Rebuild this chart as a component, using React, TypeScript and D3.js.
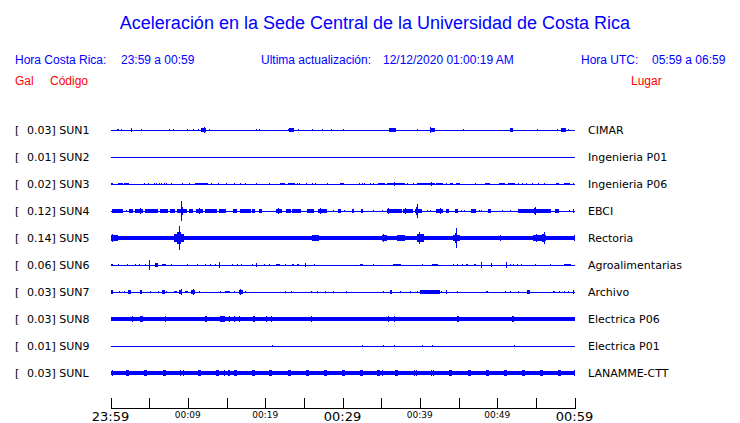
import React from "react";
import * as d3 from "d3";

const title = "Aceleración en la Sede Central de la Universidad de Costa Rica";
const codes = ["SUN1", "SUN2", "SUN3", "SUN4", "SUN5", "SUN6", "SUN7", "SUN8", "SUN9", "SUNL"];
const peaks = ["0.03", "0.01", "0.02", "0.12", "0.14", "0.06", "0.03", "0.03", "0.01", "0.03"];
const places = ["CIMAR", "Ingenieria P01", "Ingenieria P06", "EBCI", "Rectoria", "Agroalimentarias", "Archivo", "Electrica P06", "Electrica P01", "LANAMME-CTT"];
// background noise level (normalized amplitude)
const noise = [0, 0, 0, 0, 0.14, 0, 0, 0.14, 0, 0.15];
const tickMinutes = [0, 5, 10, 15, 20, 25, 30, 35, 40, 45, 50, 55, 60];
const tickLabels = ["23:59", "", "00:09", "", "00:19", "", "00:29", "", "00:39", "", "00:49", "", "00:59"];
const bigTicks = ["23:59", "00:29", "00:59"];

// bursts: [start minute, end minute, normalized amplitude]
type B = [number, number, number];
const sun1: B[] = [[0.85,1.1,0.12],[1.38,1.38,0.08],[2.67,2.67,0.15],[4.0,4.0,0.1],[7.53,7.53,0.1],[8.04,8.04,0.1],[9.89,9.89,0.1],[10.62,10.62,0.1],[11.25,11.4,0.1],[11.7,12.3,0.14],[12.04,12.04,0.22],[12.69,12.69,0.1],[18.8,18.8,0.1],[19.14,19.14,0.1],[22.92,22.92,0.1],[23.05,23.65,0.14],[24.22,24.22,0.08],[26.02,26.02,0.1],[27.4,27.4,0.1],[28.47,28.47,0.1],[30.11,30.11,0.1],[35.95,36.9,0.14],[39.66,39.66,0.1],[41.29,41.29,0.28],[41.3,41.95,0.14],[45.59,45.59,0.06],[51.6,52.05,0.14],[55.14,55.14,0.08],[57.72,57.72,0.08],[58.3,58.95,0.14],[59.14,59.14,0.1]];
const sun2: B[] = [];
const sun3: B[] = [[0,0.3,0.11],[0.99,1.59,0.11],[1.81,2.49,0.11],[4.3,4.3,0.1],[4.86,4.86,0.1],[5.59,5.59,0.1],[5.89,5.89,0.1],[6.24,6.24,0.1],[6.58,6.58,0.1],[6.88,6.88,0.1],[7.23,7.23,0.1],[7.87,7.87,0.1],[9.25,9.25,0.1],[10.11,10.11,0.1],[10.88,12.6,0.11],[13.03,13.03,0.1],[13.89,13.89,0.1],[14.92,14.92,0.1],[16.0,16.0,0.08],[16.69,16.69,0.1],[17.33,17.33,0.08],[18.84,18.84,0.1],[20.52,20.52,0.1],[21.94,22.58,0.11],[22.92,23.78,0.11],[24.09,24.09,0.1],[24.43,24.43,0.1],[25.25,25.25,0.1],[26.11,26.11,0.1],[26.45,26.45,0.1],[27.96,27.96,0.1],[29.68,30.24,0.11],[32.17,32.17,0.1],[32.47,32.47,0.1],[32.82,32.82,0.1],[33.55,33.55,0.1],[33.89,33.89,0.1],[34.54,35.48,0.11],[35.7,38.06,0.11],[36.69,36.69,0.17],[38.28,38.28,0.1],[39.14,39.14,0.1],[39.57,39.57,0.1],[39.78,41.94,0.11],[41.5,41.5,0.15],[42.15,43.01,0.11],[43.44,43.44,0.1],[43.96,44.3,0.11],[44.73,45.29,0.11],[47.1,47.1,0.1],[48.39,49.03,0.11],[50.24,50.97,0.11],[51.4,52.34,0.11],[52.69,52.69,0.1],[53.25,53.25,0.1],[53.76,53.76,0.1],[54.49,54.49,0.1],[55.27,55.27,0.1],[56.04,56.04,0.1],[57.63,58.06,0.11],[58.62,59.35,0.11],[59.78,59.78,0.1]];
const sun4: B[] = [[0.13,1.51,0.16],[1.94,1.94,0.12],[2.37,2.88,0.16],[3.14,4.17,0.16],[3.87,3.87,0.22],[4.52,6.15,0.16],[6.45,7.53,0.16],[7.74,8.39,0.16],[8.6,9.89,0.17],[9.1,9.3,0.3],[9.16,9.16,0.85],[10.19,10.75,0.16],[11.05,11.91,0.16],[11.4,11.4,0.22],[12.17,13.76,0.16],[13.98,14.92,0.16],[15.78,16.34,0.16],[16.77,18.15,0.16],[18.28,18.71,0.16],[19.23,19.66,0.16],[21.38,22.15,0.16],[21.72,21.72,0.24],[22.67,23.35,0.16],[23.53,24.73,0.16],[25.42,26.37,0.16],[26.88,28.09,0.16],[27.1,27.1,0.24],[28.82,28.82,0.12],[29.46,29.89,0.16],[30.24,30.24,0.12],[31.18,31.4,0.16],[32.39,32.69,0.16],[33.89,33.89,0.12],[35.14,35.14,0.12],[35.7,37.63,0.16],[35.91,35.91,0.22],[37.85,39.14,0.16],[38.06,38.06,0.22],[39.35,40.22,0.17],[39.55,39.8,0.3],[39.66,39.66,0.6],[40.99,40.99,0.12],[41.33,41.33,0.12],[42.06,43.01,0.16],[42.58,42.58,0.22],[43.44,43.87,0.16],[44.52,44.95,0.16],[45.29,45.29,0.12],[45.72,45.72,0.12],[46.67,47.31,0.16],[47.66,47.66,0.12],[47.87,47.87,0.12],[48.82,49.25,0.16],[50.67,50.67,0.12],[51.61,51.61,0.12],[52.69,56.99,0.16],[54.7,55.0,0.22],[54.84,54.84,0.37],[57.5,58.06,0.16],[59.35,59.35,0.12],[59.78,59.78,0.14]];
const sun5: B[] = [[0,0.86,0.22],[0.13,0.13,0.33],[6.02,6.02,0.2],[6.45,6.45,0.2],[8.17,9.46,0.3],[8.6,9.1,0.5],[8.9,8.9,1.0],[14.62,14.62,0.2],[15.91,15.91,0.2],[18.49,18.49,0.2],[21.08,21.08,0.18],[22.37,22.37,0.18],[23.44,23.44,0.18],[24.52,24.52,0.18],[26.02,26.88,0.22],[26.37,26.37,0.28],[32.9,32.9,0.2],[35.05,35.7,0.25],[35.27,35.27,0.33],[36.99,38.06,0.22],[37.2,37.2,0.28],[37.85,37.85,0.28],[39.57,40.43,0.3],[39.91,39.91,0.5],[40.86,40.86,0.2],[42.92,42.92,0.18],[44.3,45.16,0.25],[44.6,44.9,0.4],[44.73,44.73,0.83],[45.72,45.72,0.2],[48.39,48.39,0.18],[50.32,50.32,0.22],[53.33,53.33,0.2],[54.62,56.34,0.25],[55.05,55.05,0.3],[55.8,56.2,0.35],[56.04,56.04,0.47],[57.2,57.2,0.2],[57.85,57.85,0.2],[59.91,59.91,0.22]];
const sun6: B[] = [[0.05,0.25,0.11],[0.99,0.99,0.08],[2.15,2.15,0.08],[3.14,3.31,0.1],[3.66,3.66,0.08],[4.43,4.43,0.1],[4.95,4.95,0.44],[5.81,6.15,0.14],[5.95,5.95,0.2],[6.67,7.18,0.11],[7.87,7.87,0.08],[9.89,9.89,0.1],[11.18,11.18,0.08],[12.26,12.26,0.08],[12.9,12.9,0.06],[13.55,13.55,0.08],[13.98,13.98,0.22],[15.7,15.7,0.08],[16.34,16.34,0.08],[16.9,16.9,0.08],[18.28,18.28,0.1],[18.84,18.84,0.17],[19.91,19.91,0.08],[20.52,20.52,0.1],[21.38,21.94,0.1],[22.58,22.58,0.1],[23.44,23.7,0.1],[24.13,24.39,0.1],[25.16,25.16,0.17],[26.32,26.32,0.1],[32.26,32.69,0.1],[33.98,33.98,0.1],[36.56,37.63,0.1],[40.22,40.22,0.08],[41.51,42.28,0.1],[44.3,44.3,0.1],[44.86,44.86,0.1],[45.46,45.46,0.1],[46.02,46.24,0.1],[47.01,47.31,0.1],[47.96,47.96,0.22],[49.16,49.16,0.17],[51.1,51.1,0.28],[51.61,51.61,0.1],[52.04,52.04,0.1],[52.6,52.6,0.08],[53.12,53.12,0.08],[54.84,54.84,0.08],[56.77,56.77,0.08],[58.62,59.57,0.11]];
const sun7: B[] = [[0,0.22,0.14],[1.16,1.16,0.12],[1.72,1.72,0.08],[2.28,2.71,0.14],[2.5,2.5,0.17],[3.78,4.0,0.14],[5.16,5.16,0.08],[6.15,6.15,0.08],[6.67,7.01,0.14],[7.23,7.23,0.1],[8.17,8.6,0.12],[8.9,9.33,0.16],[9.1,9.1,0.22],[9.68,10.11,0.12],[10.45,10.97,0.16],[10.7,10.7,0.25],[11.4,11.4,0.08],[14.19,14.19,0.08],[14.75,15.35,0.12],[15.91,15.91,0.08],[16.56,17.08,0.14],[16.8,16.8,0.22],[17.42,17.42,0.08],[22.58,22.58,0.08],[23.35,23.35,0.1],[25.89,25.89,0.06],[26.67,26.67,0.08],[27.74,27.74,0.08],[28.82,28.82,0.08],[30.41,30.41,0.06],[35.27,35.27,0.08],[36.13,36.43,0.14],[37.42,37.42,0.1],[38.71,38.71,0.1],[39.66,39.66,0.08],[40.0,42.58,0.14],[42.8,42.8,0.1],[43.44,43.44,0.2],[44.82,44.82,0.1],[48.6,48.9,0.12],[51.05,51.05,0.08],[51.61,51.61,0.08],[52.69,52.69,0.08],[53.9,54.2,0.14],[54.06,54.06,0.2],[57.2,57.5,0.12],[57.94,57.94,0.1],[58.62,58.62,0.1],[59.14,59.14,0.1],[59.78,59.78,0.2]];
const sun8: B[] = [[2.8,2.8,0.22],[3.87,4.3,0.22],[7.01,7.01,0.22],[7.61,7.61,0.2],[8.9,8.9,0.2],[11.4,11.4,0.2],[12.2,12.4,0.24],[14.19,14.84,0.22],[15.35,15.35,0.22],[16.0,16.0,0.22],[16.65,16.65,0.22],[18.4,18.6,0.24],[19.35,19.35,0.2],[20.05,20.2,0.22],[20.8,20.95,0.22],[22.8,22.8,0.2],[23.44,23.44,0.2],[25.89,25.89,0.22],[35.91,35.91,0.22],[36.6,36.6,0.22],[44.8,45.1,0.24],[51.9,52.2,0.24]];
const sun9: B[] = [[20.86,20.86,0.08],[32.56,32.56,0.06],[35.27,35.27,0.08],[36.69,36.69,0.08],[40.3,40.3,0.08],[41.63,41.63,0.08],[52.17,52.17,0.08]];
const sunL: B[] = [[0.13,0.13,0.25],[2.03,2.45,0.22],[4.39,4.81,0.22],[6.76,7.18,0.22],[8.95,9.1,0.22],[9.38,9.54,0.22],[11.32,11.74,0.22],[13.64,14.06,0.22],[14.71,14.71,0.22],[15.25,15.45,0.22],[15.96,16.38,0.22],[18.33,18.75,0.22],[20.56,20.98,0.22],[22.93,23.35,0.22],[25.25,25.67,0.22],[27.57,27.99,0.22],[29.9,30.32,0.22],[30.75,30.75,0.2],[32.22,32.64,0.22],[34.46,34.88,0.22],[35.05,35.05,0.22],[36.78,37.2,0.22],[39.3,39.4,0.22],[39.5,39.6,0.22],[41.5,41.6,0.22],[41.75,41.9,0.22],[43.79,44.21,0.22],[46.28,46.7,0.22],[48.61,49.03,0.22],[50.89,51.31,0.22],[53.21,53.63,0.22],[55.53,55.95,0.22],[57.85,58.27,0.22],[59.91,59.91,0.22]];
const bursts: B[][] = [sun1, sun2, sun3, sun4, sun5, sun6, sun7, sun8, sun9, sunL];

const BLUE = "#0000ff";
const RED = "#ff0000";
const LABEL_FONT = "'DejaVu Sans', sans-serif";
const HEAD_FONT = "'Liberation Sans', Arial, sans-serif";

export default function App() {
  const width = 740;
  const height = 423;
  const x = d3.scaleLinear().domain([0, 60]).range([110.5, 574.5]);
  const y = d3.scalePoint<number>().domain(d3.range(codes.length)).range([130, 373]);
  const amp = d3.scaleLinear().domain([0, 1]).range([0, 12]);
  const axisY = 408.5;

  const rectFor = (b: B, cy: number, k: string) => {
    const x0 = x(b[0]);
    const x1 = x(b[1]);
    const w = Math.max(1, x1 - x0);
    const h = Math.max(1, 2 * amp(b[2]));
    return <rect key={k} x={Math.round(x0)} y={cy - h / 2} width={Math.round(w)} height={h} fill={BLUE} />;
  };

  return (
    <svg width={width} height={height} style={{ position: "absolute", left: 0, top: 0, background: "#fff" }}>
      <text x={375} y={29} textAnchor="middle" fill={BLUE} fontFamily={HEAD_FONT} fontSize={18}>{title}</text>
      <g fontFamily={HEAD_FONT} fontSize={12} fill={BLUE}>
        <text x={15} y={64}>Hora Costa Rica:</text>
        <text x={121} y={64}>23:59 a 00:59</text>
        <text x={261} y={64}>Ultima actualización:</text>
        <text x={383} y={64}>12/12/2020 01:00:19 AM</text>
        <text x={581} y={64}>Hora UTC:</text>
        <text x={652} y={64}>05:59 a 06:59</text>
      </g>
      <g fontFamily={HEAD_FONT} fontSize={12} fill={RED}>
        <text x={15} y={85}>Gal</text>
        <text x={50} y={85}>Código</text>
        <text x={631} y={85}>Lugar</text>
      </g>
      {codes.map((c, i) => {
        const cy = y(i) as number;
        return (
          <g key={c} shapeRendering="crispEdges">
            <text x={15} y={cy + 4} fontFamily={LABEL_FONT} fontSize={11} fill="#000">[</text>
            <text x={27} y={cy + 4} fontFamily={LABEL_FONT} fontSize={11} fill="#000">{`${peaks[i]}] ${c}`}</text>
            <text x={588} y={cy + 4} fontFamily={LABEL_FONT} fontSize={11} fill="#000">{places[i]}</text>
            <rect x={x(0)} y={cy - Math.max(1, 2 * amp(noise[i])) / 2} width={x(60) - x(0)} height={Math.max(1.2, 2 * amp(noise[i]))} fill={BLUE} />
            {bursts[i].map((b, j) => rectFor(b, cy, `${c}-${j}`))}
          </g>
        );
      })}
      <g shapeRendering="crispEdges" stroke="#000">
        <line x1={x(0)} x2={x(60)} y1={axisY} y2={axisY} />
        {tickMinutes.map((m) => (
          <line key={m} x1={Math.round(x(m)) + 0.5} x2={Math.round(x(m)) + 0.5} y1={398} y2={axisY} />
        ))}
      </g>
      {tickMinutes.map((m, i) => {
        const lbl = tickLabels[i];
        if (!lbl) return null;
        const big = bigTicks.includes(lbl);
        return (
          <text key={m} x={x(m)} y={big ? 421 : 418} textAnchor="middle" fontFamily={LABEL_FONT} fontSize={big ? 13 : 9} fill="#000">{lbl}</text>
        );
      })}
    </svg>
  );
}
